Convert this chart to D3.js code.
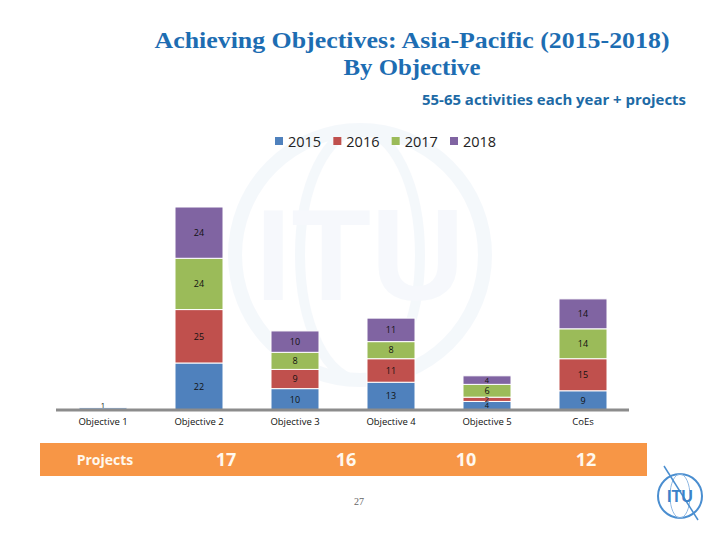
<!DOCTYPE html>
<html><head><meta charset="utf-8">
<script src="https://cdn.jsdelivr.net/npm/d3@7"></script>
<style>body{margin:0;background:#fff;}svg{display:block;}</style>
</head><body>
<svg id="chart" width="720" height="540"></svg>
<script>
const categories = ["Objective 1","Objective 2","Objective 3","Objective 4","Objective 5","CoEs"];
const years = ["2015","2016","2017","2018"];
const v2015 = [1,22,10,13,4,9];
const v2016 = [0,25,9,11,2,15];
const v2017 = [0,24,8,8,6,14];
const v2018 = [0,24,10,11,4,14];
const projectYears = ["2015","2016","2017","2018"];
const projects = [17,16,10,12];
const colors = ["#4f81bd","#c0504d","#9bbb59","#8064a2"];

const series = [v2015,v2016,v2017,v2018];
const table = categories.map((c,i)=>{const o={cat:c}; years.forEach((y,j)=>o[y]=series[j][i]); return o;});
const stacked = d3.stack().keys(years)(table);

const svg = d3.select("#chart");

// faint watermark
const wm = svg.append("g").attr("opacity",0.4);
wm.append("circle").attr("cx",360).attr("cy",255).attr("r",125).attr("fill","none").attr("stroke","#e6eef7").attr("stroke-width",14);
wm.append("ellipse").attr("cx",360).attr("cy",255).attr("rx",60).attr("ry",125).attr("fill","none").attr("stroke","#e6eef7").attr("stroke-width",10);
wm.append("text").attr("x",360).attr("y",300).attr("text-anchor","middle").attr("font-family","Liberation Sans, Arial").attr("font-weight","bold").attr("font-size",130).attr("fill","#e9f0f8").text("ITU");

// Title
svg.append("text").attr("x",412).attr("y",48).attr("text-anchor","middle")
  .attr("font-family","Liberation Serif, DejaVu Serif, serif").attr("font-weight","bold").attr("font-size",24)
  .attr("textLength",515).attr("lengthAdjust","spacingAndGlyphs")
  .attr("fill","#1d6db2").text("Achieving Objectives: Asia-Pacific (2015-2018)");
svg.append("text").attr("x",412).attr("y",75).attr("text-anchor","middle")
  .attr("font-family","Liberation Serif, DejaVu Serif, serif").attr("font-weight","bold").attr("font-size",24)
  .attr("textLength",137).attr("lengthAdjust","spacingAndGlyphs")
  .attr("fill","#1d6db2").text("By Objective");
svg.append("text").attr("x",686).attr("y",105).attr("text-anchor","end")
  .attr("font-family","Open Sans, Liberation Sans, sans-serif").attr("font-weight","bold").attr("font-size",14)
  .attr("textLength",264).attr("lengthAdjust","spacingAndGlyphs")
  .attr("fill","#1d6aa5").text("55-65 activities each year + projects");

// Legend
const legX = d3.scalePoint().domain(years).range([275,450]);
const leg = svg.append("g");
years.forEach((y,j)=>{
  leg.append("rect").attr("x",legX(y)).attr("y",137).attr("width",8).attr("height",8).attr("fill",colors[j]);
  leg.append("text").attr("x",legX(y)+13).attr("y",146.5).attr("font-family","Open Sans, Liberation Sans, sans-serif")
    .attr("font-size",14.5).attr("fill","#222").text(y);
});

// Scales
const x = d3.scaleBand().domain(categories).range([55,631]).paddingInner(0.5).paddingOuter(0.25);
const y = d3.scaleLinear().domain([0,95]).range([410,207]);

// Bars
const g = svg.append("g");
stacked.forEach((s,j)=>{
  g.selectAll(null).data(s.filter(d=>d[1]-d[0]>0)).enter().append("rect")
    .attr("x",d=>x(d.data.cat)).attr("width",x.bandwidth())
    .attr("y",d=>y(d[1])).attr("height",d=>y(d[0])-y(d[1]))
    .attr("fill",colors[j]).attr("stroke","#fff").attr("stroke-width",1);
});
// Axis
const axis = svg.append("g").attr("transform","translate(0,410)").call(d3.axisBottom(x).tickSize(0).tickPadding(9));
axis.select(".domain").attr("stroke","#8c8c8c").attr("stroke-width",3).attr("d","M56,0H629");
axis.selectAll("text").attr("font-family","Open Sans, Liberation Sans, sans-serif").attr("font-size",9.5).attr("fill","#111").attr("dy","0.6em");

// Labels
stacked.forEach((s,j)=>{
  g.selectAll(null).data(s.filter(d=>d[1]-d[0]>0)).enter().append("text")
    .attr("x",d=>x(d.data.cat)+x.bandwidth()/2)
    .attr("y",d=>{const h=y(d[0])-y(d[1]); return Math.min((y(d[0])+y(d[1]))/2+(h<12?2.8:3.3), 408);})
    .attr("text-anchor","middle").attr("font-family","Open Sans, Liberation Sans, sans-serif")
    .attr("font-size",d=>(y(d[0])-y(d[1]))<12?7.5:9)
    .attr("fill","#111").text(d=>d[1]-d[0]);
});

// Projects band
svg.append("rect").attr("x",40).attr("y",443).attr("width",607).attr("height",33).attr("fill","#f79646");
svg.append("text").attr("x",105).attr("y",464.5).attr("text-anchor","middle").attr("font-family","Open Sans, Liberation Sans, sans-serif")
  .attr("font-weight","bold").attr("font-size",14).attr("fill","#fff8ee").text("Projects");
const px = d3.scalePoint().domain(projectYears).range([226,586]);
svg.selectAll(null).data(projects).enter().append("text")
  .attr("x",(d,i)=>px(projectYears[i])).attr("y",466).attr("text-anchor","middle")
  .attr("font-family","Open Sans, Liberation Sans, sans-serif").attr("font-weight","bold").attr("font-size",18)
  .attr("fill","#fff8ee").text(d=>d);

// Page number
svg.append("text").attr("x",359).attr("y",505).attr("text-anchor","middle").attr("font-family","Liberation Serif, serif")
  .attr("font-size",10).attr("fill","#666").text("27");

// ITU logo
const logo = svg.append("g").attr("transform","translate(680,496)");
logo.append("circle").attr("r",22).attr("fill","#fff").attr("stroke","#4a8ed0").attr("stroke-width",2);
logo.append("ellipse").attr("rx",10).attr("ry",22).attr("fill","none").attr("stroke","#8fb8e3").attr("stroke-width",1);
logo.append("line").attr("x1",-16).attr("y1",-30).attr("x2",18).attr("y2",24).attr("stroke","#4a8ed0").attr("stroke-width",1.5);
logo.append("text").attr("y",6).attr("text-anchor","middle").attr("font-family","Liberation Sans, sans-serif").attr("font-weight","bold")
  .attr("font-size",16).attr("fill","#3b82c9").text("ITU");
</script>
</body></html>
